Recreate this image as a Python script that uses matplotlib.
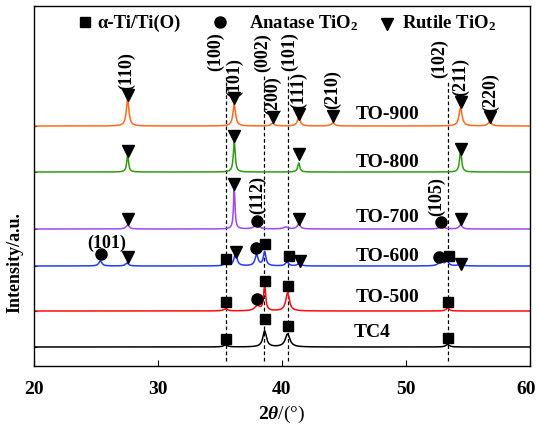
import numpy as np
import matplotlib
matplotlib.use("Agg")
import matplotlib.pyplot as plt
import matplotlib.transforms as mtransforms

plt.rcParams['font.family'] = ['Liberation Serif', 'DejaVu Serif']
plt.rcParams['font.weight'] = 'bold'
plt.rcParams['mathtext.fontset'] = 'custom'
plt.rcParams['mathtext.rm'] = 'Liberation Serif:bold'
plt.rcParams['mathtext.bf'] = 'Liberation Serif:bold'
plt.rcParams['mathtext.it'] = 'Liberation Serif:italic:bold'

# samples: name, colour, baseline offset, peaks (2theta, height, fwhm)
samples = ["TO-900", "TO-800", "TO-700", "TO-600", "TO-500", "TC4"]
colors = ["#FF6A1C", "#2F9B10", "#A245F5", "#1F3CFF", "#FF0A0A", "#000000"]
baselines = [240, 194, 137, 100, 55, 19]
peak_pos = [
    [27.55, 36.15, 39.25, 41.35, 44.1, 54.4, 56.75],
    [27.55, 36.15, 41.35, 54.4],
    [27.55, 36.15, 37.95, 40.3, 41.35, 52.9, 54.4],
    [25.35, 27.5, 35.45, 36.25, 37.95, 38.6, 40.4, 41.4, 52.8, 53.3, 54.4],
    [35.45, 38.0, 38.6, 40.45, 53.35],
    [35.45, 38.6, 40.45, 53.35],
]
peak_h = [
    [27, 22, 3, 8, 3, 18, 4],
    [17, 31, 9, 21],
    [4, 40, 4, 2, 5, 2, 4],
    [5, 3, 3, 12, 11, 14, 4, 3, 5, 5, 3],
    [2, 5, 25, 18, 3],
    [2, 16, 13, 2.5],
]
peak_w = [
    [0.25, 0.25, 0.3, 0.3, 0.35, 0.3, 0.35],
    [0.18, 0.18, 0.2, 0.2],
    [0.3, 0.15, 0.5, 0.4, 0.3, 0.5, 0.3],
    [0.3, 0.3, 0.3, 0.3, 0.3, 0.25, 0.3, 0.3, 0.4, 0.3, 0.3],
    [0.4, 0.5, 0.2, 0.35, 0.3],
    [0.4, 0.35, 0.45, 0.35],
]

# phase markers (2theta, y)
ti_x = [35.5, 38.65, 40.55, 53.5, 35.5, 38.6, 40.5, 53.4, 35.5, 38.6, 40.5, 53.4]
ti_y = [107, 122, 110, 110, 64, 85, 80, 64, 27, 47, 40, 28]
ana_x = [38.0, 52.85, 25.4, 37.9, 52.7, 38.0]
ana_y = [145, 144, 112, 118, 109, 67]
rut_x = [27.55, 36.15, 39.25, 41.35, 44.1, 54.4, 56.75,
         27.55, 36.15, 41.35, 54.4,
         27.55, 36.15, 41.35, 54.4,
         27.55, 36.3, 41.45, 54.4]
rut_y = [271, 268, 249, 252, 250, 264, 249,
         215, 230, 212, 217,
         147, 182, 147, 147,
         109, 114, 105, 102]

# Ti reference lines and labels
ti_lines = [35.5, 38.55, 40.45, 53.35]
ti_line_top = [289, 292, 292, 285]
ti_labels = ["(100)", "(002)", "(101)", "(102)"]
ti_label_x = [34.65, 38.45, 40.65, 52.7]
ti_label_y = [315, 314, 315, 308]

# rutile hkl labels above TO-900
rut_labels = ["(110)", "(101)", "(200)", "(111)", "(210)", "(211)", "(220)"]
rut_label_x = [27.5, 36.15, 39.25, 41.3, 44.1, 54.4, 56.8]
rut_label_y = [296, 289, 271, 276, 277, 290, 274]

# anatase hkl labels
ana_labels = ["(112)", "(105)"]
ana_label_x = [38.05, 52.5]
ana_label_y = [172, 170]

name_x = [48.5, 48.5, 48.5, 48.5, 48.5, 47.3]
name_y = [252, 204, 149, 110, 69, 34]

tt = np.linspace(20, 60, 4001)

fig = plt.figure(figsize=(5.38, 4.27), dpi=100)
ax = fig.add_axes([34 / 538, 1 - 367 / 427, 496 / 538, 360 / 427])

for i, name in enumerate(samples):
    y = np.full_like(tt, baselines[i], dtype=float)
    for p, h, w in zip(peak_pos[i], peak_h[i], peak_w[i]):
        g = (w / 2) ** 2
        y += h * g / ((tt - p) ** 2 + g)
    ax.plot(tt, y, color=colors[i], lw=1.1, zorder=2)
    ax.text(name_x[i], name_y[i], name, ha='center', va='center', fontsize=14)

for x, top in zip(ti_lines, ti_line_top):
    ax.plot([x, x], [5, top], color='k', ls=(0, (3, 2)), lw=0.9, zorder=1)
for lab, x, y in zip(ti_labels, ti_label_x, ti_label_y):
    ax.text(x, y, lab, rotation=90, ha='center', va='center', fontsize=13)
for lab, x, y in zip(rut_labels, rut_label_x, rut_label_y):
    ax.text(x, y, lab, rotation=90, ha='center', va='center', fontsize=13)
for lab, x, y in zip(ana_labels, ana_label_x, ana_label_y):
    ax.text(x, y, lab, rotation=90, ha='center', va='center', fontsize=13)
ax.text(25.9, 124, "(101)", ha='center', va='center', fontsize=13)

ax.plot(ti_x, ti_y, 's', color='k', ms=7.5, ls='none', zorder=3)
ax.plot(ana_x, ana_y, 'o', color='k', ms=8, ls='none', zorder=3)
ax.plot(rut_x, rut_y, 'v', color='k', ms=9, ls='none', zorder=3)

# legend row
ax.plot([24.1], [344], 's', color='k', ms=7)
ax.text(25.1, 344, "α-Ti/Ti(O)", ha='left', va='center', fontsize=13.5)
ax.plot([35.0], [344], 'o', color='k', ms=8)
ax.text(37.3, 344, "Anatase TiO$_2$", ha='left', va='center', fontsize=13.5)
ax.plot([48.5], [342], 'v', color='k', ms=8)
ax.text(49.7, 344, "Rutile TiO$_2$", ha='left', va='center', fontsize=13.5)

ax.set_xlim(20, 60)
ax.set_ylim(0, 360)
ax.set_xticks([20, 30, 40, 50, 60])
ax.set_yticks(baselines)
ax.set_yticklabels([])
ax.tick_params(axis='x', direction='in', length=4, labelsize=14, pad=10)
ax.tick_params(axis='y', direction='in', length=2)
for s in ax.spines.values():
    s.set_linewidth(1.0)

# keep the last tick label inside the figure
fig.canvas.draw()
last = ax.get_xticklabels()[-1]
last.set_transform(last.get_transform() +
                   mtransforms.ScaledTranslation(-4 / 100, 0, fig.dpi_scale_trans))

ax.set_xlabel(r"$\mathit{2\theta}$/(°)", fontsize=14, labelpad=4)
fig.text(15 / 538, 1 - 263 / 427, "Intensity/a.u.", rotation=90,
         ha='center', va='center', fontsize=13)

fig.savefig("out.png", dpi=100)
